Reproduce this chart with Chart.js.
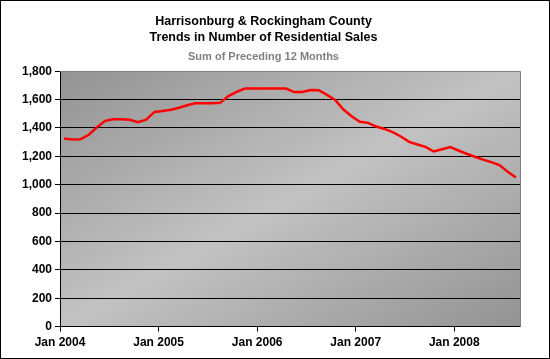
<!DOCTYPE html>
<html>
<head>
<meta charset="utf-8">
<script src="https://cdn.jsdelivr.net/npm/chart.js@4/dist/chart.umd.min.js"></script>
<style>
html,body{margin:0;padding:0;background:#fff;}
#wrap{width:550px;height:359px;position:relative;}
canvas{display:block;}
</style>
</head>
<body>
<div id="wrap"><canvas id="c" width="550" height="359"></canvas></div>
<script>
// Month categories (one slot per month)
const months = [
  'Jan 2004','Feb 2004','Mar 2004','Apr 2004','May 2004','Jun 2004','Jul 2004','Aug 2004','Sep 2004','Oct 2004','Nov 2004','Dec 2004',
  'Jan 2005','Feb 2005','Mar 2005','Apr 2005','May 2005','Jun 2005','Jul 2005','Aug 2005','Sep 2005','Oct 2005','Nov 2005','Dec 2005',
  'Jan 2006','Feb 2006','Mar 2006','Apr 2006','May 2006','Jun 2006','Jul 2006','Aug 2006','Sep 2006','Oct 2006','Nov 2006','Dec 2006',
  'Jan 2007','Feb 2007','Mar 2007','Apr 2007','May 2007','Jun 2007','Jul 2007','Aug 2007','Sep 2007','Oct 2007','Nov 2007','Dec 2007',
  'Jan 2008','Feb 2008','Mar 2008','Apr 2008','May 2008','Jun 2008','Jul 2008','Aug 2008'
];
// Sum of preceding 12 months of residential sales
const sales = [
  1325, 1318, 1320, 1352, 1405, 1450, 1461, 1461, 1458, 1440, 1458, 1513,
  1520, 1528, 1542, 1560, 1575, 1575, 1575, 1577, 1625, 1655, 1678, 1678,
  1678, 1678, 1678, 1678, 1653, 1653, 1668, 1666, 1633, 1598, 1530, 1482,
  1443, 1436, 1410, 1393, 1370, 1340, 1302, 1283, 1267, 1234, 1250, 1265,
  1241, 1218, 1197, 1177, 1159, 1138, 1092, 1051
];
// Y axis tick settings
const yMin = 0, yMax = 1800, yStep = 200;
const titleLines = ['Harrisonburg & Rockingham County', 'Trends in Number of Residential Sales'];
const subtitleText = 'Sum of Preceding 12 Months';

const FONT = "'Liberation Sans', Arial, sans-serif";

const bgPlugin = {
  id: 'bgPlugin',
  beforeDraw(chart) {
    const {ctx, width, height, chartArea: a} = chart;
    ctx.save();
    ctx.fillStyle = '#ffffff';
    ctx.fillRect(0, 0, width, height);
    const w = a.right - a.left, h = a.bottom - a.top;
    const cx = a.left + w / 2, cy = a.top + h / 2;
    const L2 = w * w + h * h;
    const k = w * h / L2;
    const g = ctx.createLinearGradient(cx - h * k, cy - w * k, cx + h * k, cy + w * k);
    g.addColorStop(0, '#939393');
    g.addColorStop(0.5, '#c2c2c2');
    g.addColorStop(1, '#939393');
    ctx.fillStyle = g;
    ctx.fillRect(a.left, a.top, w, h);
    ctx.restore();
  },
  afterDraw(chart) {
    const {ctx, width, height, chartArea: a} = chart;
    ctx.save();
    ctx.lineWidth = 1;
    ctx.strokeStyle = '#808080';
    ctx.beginPath();
    const t = Math.round(a.top) + 0.5, r = Math.round(a.right) + 0.5;
    ctx.moveTo(Math.round(a.left), t);
    ctx.lineTo(r, t);
    ctx.lineTo(r, Math.round(a.bottom));
    ctx.stroke();
    ctx.strokeStyle = '#000000';
    ctx.strokeRect(0.5, 0.5, width - 1, height - 1);
    ctx.restore();
  }
};

new Chart(document.getElementById('c'), {
  type: 'line',
  data: {
    datasets: [{
      data: sales.map((v, i) => ({x: i + 0.5, y: v})),
      borderColor: '#ff0000',
      borderWidth: 2.5,
      pointRadius: 0,
      tension: 0,
      fill: false
    }]
  },
  options: {
    responsive: false,
    animation: false,
    devicePixelRatio: 1,
    layout: {padding: {left: 7, right: 30, top: 0, bottom: 5}},
    plugins: {
      legend: {display: false},
      tooltip: {enabled: false},
      title: {
        display: true,
        text: titleLines,
        color: '#000',
        font: {family: FONT, size: 12.5, weight: 'bold', lineHeight: 1.24},
        padding: {top: 14, bottom: 0}
      },
      subtitle: {
        display: true,
        text: subtitleText,
        color: '#808080',
        font: {family: FONT, size: 11, weight: 'bold', lineHeight: 1.2},
        padding: {top: 5, bottom: 8}
      }
    },
    scales: {
      x: {
        type: 'linear',
        min: 0,
        max: months.length,
        afterBuildTicks(s) {
          s.ticks = months.map((m, i) => ({value: i, m}))
            .filter(t => t.m.startsWith('Jan'))
            .map(t => ({value: t.value}));
        },
        ticks: {
          callback: v => months[v],
          color: '#000',
          font: {family: FONT, size: 12, weight: 'bold'},
          padding: 4,
          maxRotation: 0,
          autoSkip: false
        },
        grid: {drawOnChartArea: false, drawTicks: true, tickLength: 5, color: '#000'},
        border: {color: '#000'}
      },
      y: {
        min: yMin,
        max: yMax,
        ticks: {
          stepSize: yStep,
          callback: v => v.toLocaleString('en-US'),
          color: '#000',
          font: {family: FONT, size: 12, weight: 'bold'},
          padding: 3
        },
        grid: {color: '#000', lineWidth: 1, tickLength: 5},
        border: {color: '#000'},
        afterFit(s) { s.width = 53; }
      }
    }
  },
  plugins: [bgPlugin]
});
</script>
</body>
</html>
